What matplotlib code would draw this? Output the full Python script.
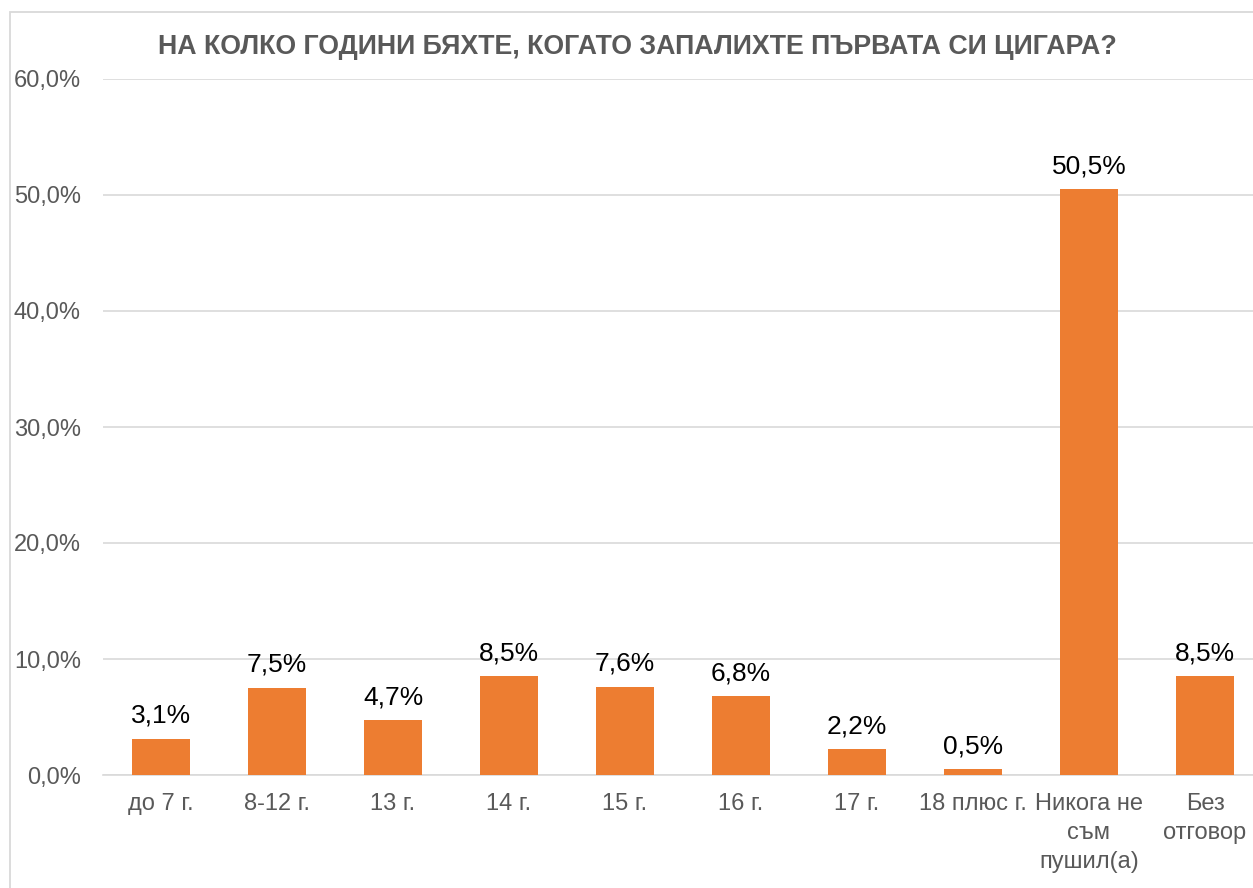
import matplotlib
matplotlib.use("Agg")
import matplotlib.pyplot as plt
from matplotlib.patches import Rectangle
from matplotlib.ticker import FuncFormatter

categories = ["до 7 г.", "8-12 г.", "13 г.", "14 г.", "15 г.", "16 г.", "17 г.",
              "18 плюс г.", "Никога не\nсъм\nпушил(а)", "Без\nотговор"]
values = [3.1, 7.5, 4.7, 8.5, 7.6, 6.8, 2.2, 0.5, 50.5, 8.5]
title = "НА КОЛКО ГОДИНИ БЯХТЕ, КОГАТО ЗАПАЛИХТЕ ПЪРВАТА СИ ЦИГАРА?"

plt.rcParams['font.family'] = ['Liberation Sans', 'DejaVu Sans']

W, H = 1253, 888
fig = plt.figure(figsize=(W / 100, H / 100), dpi=100)
fig.patches.append(Rectangle((10 / W, -0.1), 1.2, (H - 12) / H + 0.1,
                             transform=fig.transFigure, fill=False,
                             edgecolor="#D9D9D9", linewidth=1.3))

ax = fig.add_axes([103 / W, (H - 775) / H, 1160 / W, (775 - 79) / H])
x = range(len(categories))
bars = ax.bar(x, values, width=0.5, color="#ED7D31", zorder=3)
ax.set_xlim(-0.5, len(categories) - 0.5)
ax.set_ylim(0, 60)
ax.set_yticks([0, 10, 20, 30, 40, 50, 60])
ax.yaxis.set_major_formatter(FuncFormatter(lambda v, p: f"{v:.1f}%".replace(".", ",")))
ax.grid(axis="y", color="#D9D9D9", linewidth=1.2, zorder=0)
for s in ["top", "right", "left"]:
    ax.spines[s].set_visible(False)
ax.spines["bottom"].set_color("#D9D9D9")
ax.spines["bottom"].set_linewidth(1.2)
ax.set_xticks(list(x))
ax.set_xticklabels(categories, fontsize=17, color="#595959", linespacing=1.42)
ax.tick_params(axis="x", length=0, pad=13)
ax.tick_params(axis="y", length=0, pad=16, labelsize=17, labelcolor="#595959")

for b, v in zip(bars, values):
    ax.annotate(f"{v:.1f}%".replace(".", ","), (b.get_x() + b.get_width() / 2, v),
                xytext=(0, 8), textcoords="offset points", ha="center", va="bottom",
                fontsize=19, color="#000000")

fig.text(637 / W, 1 - 47 / H, title, ha="center", va="center", fontsize=19.3,
         fontweight="bold", color="#595959")

fig.savefig("out.png", dpi=100)
